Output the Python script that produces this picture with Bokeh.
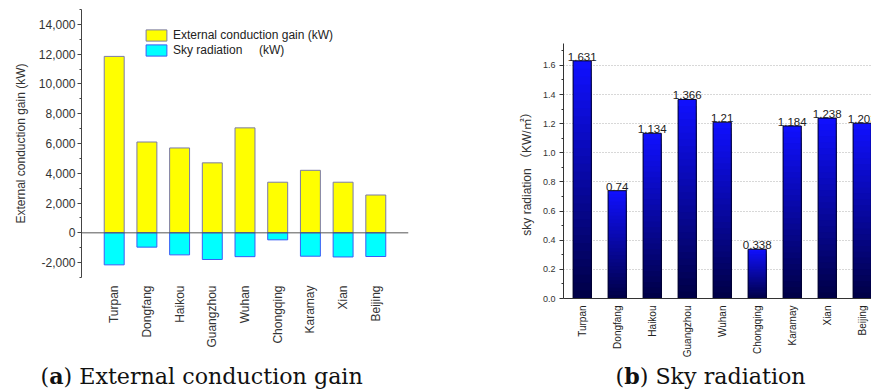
import numpy as np
from bokeh.plotting import figure
from bokeh.layouts import row, column
from bokeh.models import (Range1d, FixedTicker, NumeralTickFormatter, Span, Legend,
                          LegendItem, ColumnDataSource)
from bokeh.core.properties import value
from bokeh.embed import file_html
from bokeh.resources import INLINE

# ---------------- data ----------------
cities = ["Turpan", "Dongfang", "Haikou", "Guangzhou", "Wuhan",
          "Chongqing", "Karamay", "Xian", "Beijing"]
conduction_gain_kw = [11850, 6100, 5700, 4700, 7050, 3400, 4200, 3400, 2540]
sky_radiation_kw = [-2150, -960, -1480, -1790, -1600, -470, -1570, -1620, -1590]
sky_radiation_kwm2 = [1.631, 0.74, 1.134, 1.366, 1.21, 0.338, 1.184, 1.238, 1.203]
left_yticks = [-2000, 0, 2000, 4000, 6000, 8000, 10000, 12000, 14000]
left_minor = [-3000, -1000, 1000, 3000, 5000, 7000, 9000, 11000, 13000, 15000]
right_yticks = [0.0, 0.2, 0.4, 0.6, 0.8, 1.0, 1.2, 1.4, 1.6]
right_minor = [0.1, 0.3, 0.5, 0.7, 0.9, 1.1, 1.3, 1.5, 1.7]
caption_a = ["(", "a", ") External conduction gain"]
caption_b = ["(", "b", ") Sky radiation"]

SANS = "Liberation Sans"
SANS_CJK = "'Liberation Sans', 'Noto Sans CJK SC'"
SERIF = "DejaVu Serif"

xs = list(range(1, len(cities) + 1))
labels = {x: c for x, c in zip(xs, cities)}

# ---------------- (a) ----------------
p1 = figure(width=500, height=360, x_range=Range1d(0, 10), y_range=Range1d(-3000, 15000),
            output_backend="svg", toolbar_location=None,
            min_border_left=81, min_border_right=92, min_border_top=9, min_border_bottom=83)
p1.outline_line_color = None
p1.grid.visible = False

src = ColumnDataSource(dict(x=xs, gain=conduction_gain_kw, sky=sky_radiation_kw))
r1 = p1.vbar(x="x", top="gain", bottom=0, width=0.61, source=src,
             fill_color="#ffff00", line_color="#7a7aa8", line_width=1)
r2 = p1.vbar(x="x", top=0, bottom="sky", width=0.61, source=src,
             fill_color="#00ffff", line_color="#3a5cf5", line_width=1)
p1.add_layout(Span(location=0, dimension="width", line_color="#555555", line_width=1))

leg = Legend(items=[LegendItem(label="External conduction gain (kW)", renderers=[r1]),
                    LegendItem(label="Sky radiation\u00a0\u00a0\u00a0\u00a0 (kW)", renderers=[r2])],
             location=(62, 220), padding=0, margin=0, spacing=1,
             glyph_width=26, glyph_height=14, label_standoff=4,
             border_line_color=None, background_fill_alpha=0,
             label_text_font=SANS, label_text_font_size="12px", label_text_color="#222222")
p1.add_layout(leg)

ya = p1.yaxis[0]
ya.ticker = FixedTicker(ticks=left_yticks, minor_ticks=left_minor)
ya.formatter = NumeralTickFormatter(format="0,0")
ya.major_tick_out = 4
ya.major_tick_in = 0
ya.minor_tick_out = 2
ya.minor_tick_in = 0
ya.axis_line_color = "#444444"
ya.major_tick_line_color = "#444444"
ya.minor_tick_line_color = "#444444"
ya.major_label_standoff = 2
ya.major_label_text_font = SANS
ya.major_label_text_font_size = "12px"
ya.major_label_text_color = "#333333"
ya.axis_label = "External conduction gain (kW)"
ya.axis_label_standoff = 8
ya.axis_label_text_font = SANS
ya.axis_label_text_font_size = "12px"
ya.axis_label_text_font_style = "normal"
ya.axis_label_text_color = "#333333"

xa = p1.xaxis[0]
xa.ticker = FixedTicker(ticks=xs)
xa.major_label_overrides = labels
xa.major_label_orientation = np.pi / 2
xa.axis_line_color = None
xa.major_tick_line_color = None
xa.minor_tick_line_color = None
xa.major_label_standoff = 2
xa.major_label_text_font = SANS
xa.major_label_text_font_size = "12px"
xa.major_label_text_color = "#333333"


def caption_fig(width, height, parts, x0, offs):
    c = figure(width=width, height=height, title=None,
               x_range=Range1d(0, width), y_range=Range1d(0, height),
               x_axis_type=None, y_axis_type=None, output_backend="svg",
               toolbar_location=None, min_border=0)
    c.outline_line_color = None
    c.grid.visible = False
    styles = ["normal", "bold", "normal"]
    for txt, off, st in zip(parts, offs, styles):
        c.text(x=[x0 + off], y=[15], text=[txt], text_baseline="alphabetic", text_align="left",
               text_font=value(SERIF), text_font_size="22.2px", text_font_style=st,
               text_color="#111111")
    return c


cap1 = caption_fig(500, 30, caption_a, 40, [0, 8.7, 23.0])

# ---------------- (b) ----------------
p2 = figure(width=371, height=360, x_range=Range1d(0.466, 9.266), y_range=Range1d(0, 1.75),
            output_backend="svg", toolbar_location=None,
            min_border_left=63, min_border_right=0, min_border_top=43, min_border_bottom=62)
p2.outline_line_color = None
p2.xgrid.visible = False
p2.ygrid.ticker = FixedTicker(ticks=right_yticks[1:])
p2.ygrid.grid_line_color = "#b0b0b0"
p2.ygrid.grid_line_dash = "1 2"

vals = np.array(sky_radiation_kwm2)
N = 30
dark = np.array([0x00, 0x00, 0x45])
bright = np.array([0x10, 0x10, 0xff])
for k in range(N):
    frac = 1 - k / N
    t = frac - 0.5 / N
    c = dark + (bright - dark) * t
    col = "#%02x%02x%02x" % tuple(int(round(v)) for v in c)
    p2.vbar(x=xs, bottom=0, top=list(vals * frac), width=0.52,
            fill_color=col, line_color=None)
p2.vbar(x=xs, top=sky_radiation_kwm2, bottom=0, width=0.52, fill_color=None,
        line_color="#00002a", line_width=1)

p2.text(x=xs, y=sky_radiation_kwm2, text=[str(v) for v in sky_radiation_kwm2],
        text_align="center", text_baseline="alphabetic", y_offset=-4,
        text_font=value(SANS), text_font_size="11.5px", text_color="#222222")

ya2 = p2.yaxis[0]
ya2.ticker = FixedTicker(ticks=right_yticks, minor_ticks=right_minor)
ya2.formatter = NumeralTickFormatter(format="0.0")
ya2.major_tick_out = 4
ya2.major_tick_in = 0
ya2.minor_tick_out = 2
ya2.minor_tick_in = 0
ya2.axis_line_color = "#333333"
ya2.major_tick_line_color = "#333333"
ya2.minor_tick_line_color = "#333333"
ya2.major_label_standoff = 4
ya2.major_label_text_font = SANS
ya2.major_label_text_font_size = "9px"
ya2.major_label_text_color = "#333333"
ya2.axis_label = "sky radiation \uff08KW/\u33a1\uff09"
ya2.axis_label_standoff = 6
ya2.axis_label_text_font = SANS_CJK
ya2.axis_label_text_font_size = "12px"
ya2.axis_label_text_font_style = "normal"
ya2.axis_label_text_color = "#333333"

xa2 = p2.xaxis[0]
xa2.ticker = FixedTicker(ticks=xs)
xa2.major_label_overrides = labels
xa2.major_label_orientation = np.pi / 2
xa2.axis_line_color = "#333333"
xa2.major_tick_line_color = None
xa2.minor_tick_line_color = None
xa2.major_tick_out = 0
xa2.major_tick_in = 0
xa2.major_label_standoff = 7
xa2.major_label_text_font = SANS
xa2.major_label_text_font_size = "10px"
xa2.major_label_text_color = "#222222"

cap2 = caption_fig(371, 30, caption_b, 115, [0, 8.7, 24.2])

layout = row(column(p1, row(cap1)), column(p2, row(cap2)))
open("out.html", "w").write(file_html(layout, INLINE))
